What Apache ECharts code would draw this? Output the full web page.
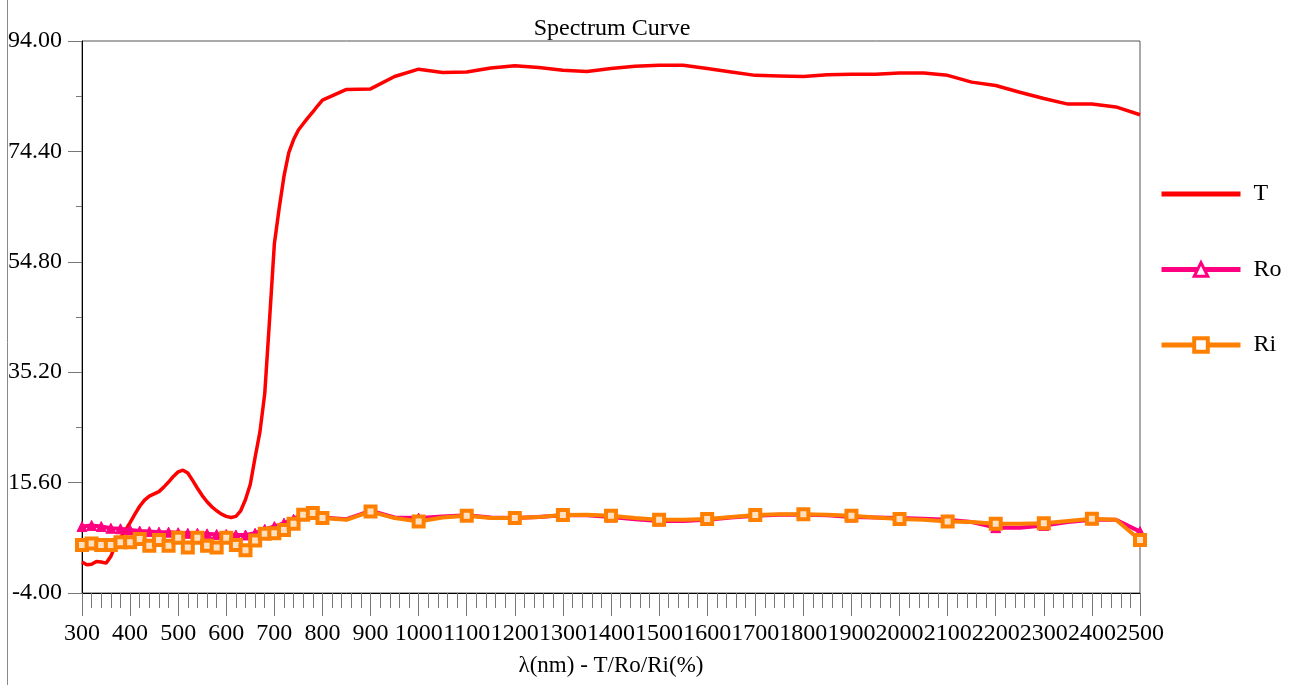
<!DOCTYPE html>
<html>
<head>
<meta charset="utf-8">
<script src="https://cdn.jsdelivr.net/npm/echarts@6/dist/echarts.min.js"></script>
<style>html,body{margin:0;padding:0;background:#fff;}#c{width:1290px;height:685px;}</style>
</head>
<body>
<div id="c"></div>
<script>
const titleText = 'Spectrum Curve';
const xAxisName = 'λ(nm) - T/Ro/Ri(%)';
const seriesNames = ['T', 'Ro', 'Ri'];

const tWavelengths = [300,310,320,330,340,350,360,370,380,390,400,410,420,430,440,450,460,470,480,490,500,510,520,530,540,550,560,570,580,590,600,610,620,630,640,650,660,670,680,690,700,710,720,730,740,750,760,770,780,790,800,
  850,900,950,1000,1050,1100,1150,1200,1250,1300,1350,1400,1450,1500,1550,1600,1650,1700,1750,1800,1850,1900,1950,2000,2050,2100,2150,2200,2250,2300,2350,2400,2450,2500];
const tValues = [1.5,1.0,1.1,1.6,1.5,1.3,2.5,4.6,5.8,7.1,8.5,10.0,11.4,12.5,13.2,13.6,14.0,14.8,15.7,16.7,17.5,17.8,17.3,16.0,14.6,13.3,12.2,11.3,10.6,10.0,9.6,9.4,9.6,10.6,12.6,15.3,20.1,24.6,31.4,44.5,58.0,64.3,70.0,74.2,76.5,78.2,79.3,80.4,81.4,82.5,83.5,
  85.4,85.5,87.7,89.0,88.4,88.5,89.2,89.6,89.3,88.8,88.6,89.1,89.5,89.7,89.7,89.1,88.5,87.9,87.8,87.7,88.0,88.1,88.1,88.3,88.3,87.9,86.7,86.1,84.9,83.8,82.8,82.8,82.3,80.9];

const rWavelengths = [300,320,340,360,380,400,420,440,460,480,500,520,540,560,580,600,620,640,660,680,700,720,740,760,780,800,
  850,900,950,1000,1050,1100,1150,1200,1250,1300,1350,1400,1450,1500,1550,1600,1650,1700,1750,1800,1850,1900,1950,2000,2050,2100,2150,2200,2250,2300,2350,2400,2450,2500];
const roValues = [7.8,8.0,7.8,7.5,7.4,7.2,7.0,6.9,6.8,6.8,6.7,6.6,6.6,6.5,6.4,6.4,6.3,6.3,6.6,7.3,7.8,8.4,9.1,10.1,10.3,9.4,
  9.1,10.6,9.4,9.3,9.6,9.8,9.4,9.3,9.5,9.8,9.8,9.5,9.1,8.8,8.8,9.0,9.4,9.7,9.9,9.9,9.8,9.5,9.4,9.3,9.2,9.0,8.6,7.6,7.6,8.0,8.6,9.0,9.0,6.9];
const riValues = [4.5,4.8,4.5,4.5,5.0,5.0,5.6,4.4,5.4,4.4,5.8,4.1,5.8,4.4,4.1,5.8,4.5,3.6,5.3,6.5,6.6,7.2,8.3,9.9,10.2,9.3,
  9.0,10.45,9.3,8.7,9.4,9.7,9.3,9.3,9.5,9.85,9.9,9.7,9.3,9.0,9.0,9.15,9.5,9.85,10.0,10.0,9.9,9.7,9.4,9.15,9.0,8.7,8.6,8.3,8.3,8.4,8.8,9.2,9.0,5.4];

const FONT = 'Liberation Serif';
const COLORS = ['#FF0000', '#FF0080', '#FF8000'];

function markerFor(w, sym) {
  return (w <= 800 || w % 100 === 0) ? sym : 'none';
}
const tData = tWavelengths.map((w, i) => [w, tValues[i]]);
const roData = rWavelengths.map((w, i) => ({ value: [w, roValues[i]], symbol: markerFor(w, 'triangle') }));
const riData = rWavelengths.map((w, i) => ({ value: [w, riValues[i]], symbol: markerFor(w, 'rect') }));

const chart = echarts.init(document.getElementById('c'), null, { renderer: 'canvas' });
chart.setOption({
  animation: false,
  backgroundColor: '#fff',
  textStyle: { fontFamily: FONT },
  title: {
    text: titleText,
    left: 607, top: 12, textAlign: 'center',
    textStyle: { fontFamily: FONT, fontSize: 24, fontWeight: 'normal', color: '#000' }
  },
  graphic: [{
    type: 'line', shape: { x1: 7.5, y1: 0, x2: 7.5, y2: 685 },
    style: { stroke: '#888', lineWidth: 1 }
  }],
  grid: {
    left: 82, right: 150, top: 41, bottom: 92,
    show: true, borderColor: '#555', borderWidth: 1, backgroundColor: 'transparent'
  },
  legend: {
    orient: 'vertical', left: 1154, top: 177,
    itemWidth: 79, itemHeight: 17, itemGap: 51.5,
    lineStyle: { width: 5 },
    data: [
      { name: 'T', itemStyle: { color: 'transparent', borderWidth: 0 } },
      { name: 'Ro', itemStyle: { color: '#fff', borderColor: COLORS[1], borderWidth: 3 } },
      { name: 'Ri', itemStyle: { color: '#fff', borderColor: COLORS[2], borderWidth: 4 } }
    ],
    textStyle: { fontFamily: FONT, fontSize: 24, color: '#000', padding: [0, 0, 0, 8] }
  },
  xAxis: {
    type: 'value', min: 300, max: 2500, interval: 100,
    name: xAxisName, nameLocation: 'middle', nameGap: 61,
    nameTextStyle: { fontFamily: FONT, fontSize: 23, color: '#000' },
    axisLine: { show: true, onZero: false, lineStyle: { color: '#000', width: 1 } },
    axisTick: { show: true, length: 23, lineStyle: { color: '#777', width: 1 } },
    minorTick: { show: true, splitNumber: 5, length: 15, lineStyle: { color: '#777', width: 1 } },
    axisLabel: { fontFamily: FONT, fontSize: 24, color: '#000', margin: 29, interval: 0, showMinLabel: true, showMaxLabel: true, hideOverlap: false, formatter: v => String(v) },
    splitLine: { show: false }
  },
  yAxis: {
    type: 'value', min: -4, max: 94, interval: 19.6,
    axisLine: { show: true, onZero: false, lineStyle: { color: '#000', width: 1 } },
    axisTick: { show: true, length: 14, lineStyle: { color: '#777', width: 1 } },
    minorTick: { show: true, splitNumber: 2, length: 6, lineStyle: { color: '#777', width: 1 } },
    axisLabel: { fontFamily: FONT, fontSize: 24, color: '#000', margin: 20, formatter: v => v.toFixed(2) },
    splitLine: { show: false }
  },
  series: [
    {
      name: 'T', type: 'line', data: tData, symbol: 'none', smooth: false,
      lineStyle: { color: COLORS[0], width: 3.5 }, itemStyle: { color: COLORS[0] }
    },
    {
      name: 'Ro', type: 'line', data: roData, symbol: 'triangle', symbolSize: 10, showAllSymbol: true,
      lineStyle: { color: COLORS[1], width: 4 }, itemStyle: { color: COLORS[1], borderColor: COLORS[1], borderWidth: 1 }
    },
    {
      name: 'Ri', type: 'line', data: riData, symbol: 'rect', symbolSize: 10, showAllSymbol: true,
      lineStyle: { color: COLORS[2], width: 4 }, itemStyle: { color: '#FFE0C0', borderColor: COLORS[2], borderWidth: 4 }
    }
  ]
});
</script>
</body>
</html>
